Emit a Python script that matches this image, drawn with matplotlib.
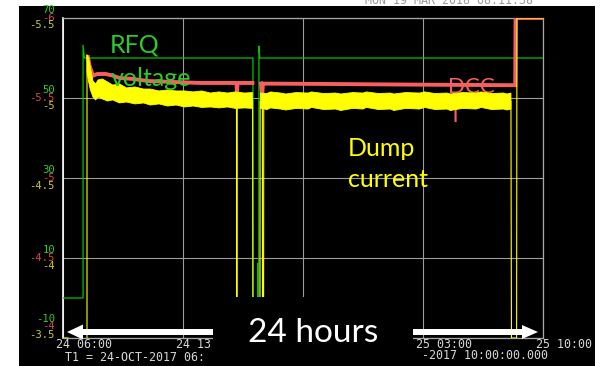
import numpy as np
import matplotlib
matplotlib.use('Agg')
import matplotlib.pyplot as plt
from matplotlib.patches import Rectangle, FancyArrow
from matplotlib.transforms import Affine2D

nan = np.nan

# ---------------- data (hours since 24-OCT 06:00) ----------------
x_ticks = [0, 7, 14, 21, 28]
# labels as visible in the reference (the middle one is hidden by the "24 hours" box)
x_labels = ["24 06:00", "24 13", "", "25 03:00", "25 10:00"]

green_ticks = [70, 50, 30, 10, -10]          # RFQ voltage scale
red_ticks = [-6, -5.5, -5, -4.5, -4]         # DCCT scale (inverted)
yellow_ticks = [-5.5, -5, -4.5, -4, -3.5]    # Dump current scale (inverted)
green_labels = ["70", "50", "30", "10", "-10"]
red_labels = ["-6", "-5.5", "-5", "-4.5", "-4"]
yellow_labels = ["-5.5", "-5", "-4.5", "-4", "-3.5"]

# RFQ voltage
green_t = [0, 1.17, 1.17, 1.25, 11.08, 11.09, 11.36, 11.37, 11.39, 11.42, 11.43, 11.48, 28]
green_v = [0, 0, 63.2, 60, 60, 0, 0, 8.7, 0, 0, 63, 60, 60]

# DCCT
red_t = [1.46, 1.55, 1.75, 2.0, 2.5, 2.9, 3.3, 4.0, 5.0, 6.5, 8.0, 10.12, 10.15, 10.18,
         11.05, 11.3, 11.55, 11.62, 11.66, 11.70, 15.0, 20.0, 26.38, 26.40, 28.0]
red_v = [-5.756, -5.70, -5.64, -5.65, -5.65, -5.64, -5.625, -5.62, -5.606, -5.60, -5.594,
         -5.594, -5.52, -5.594, -5.594, nan, -5.59, -5.52, -5.59, -5.59, -5.588, -5.584,
         -5.58, -6.0, -6.0]

# Dump current: trace
yel_t = [0, 0.3, 0.35, 1.40, 1.40, 1.5, 1.6, 1.75, 2.05, 2.6, 3.3, 4.2, 5.1, 7.1, 10.12,
         10.14, 10.16, 11.06, 11.08, 11.49, 11.50, 11.63, 11.64, 11.70, 11.71, 26.13,
         26.16, 26.46, 26.48, 28]
yel_v = [-3.5, -3.5, nan, -3.5, -5.269, -5.17, -5.12, -5.056, -5.05, -5.04, -5.025,
         -5.015, -5.0, -4.99, -4.985, -3.5, -4.985, -4.985, -3.5, -3.5, -4.98, -4.98,
         -3.5, -3.5, -4.98, -4.98, -3.5, -3.5, -5.5, -5.5]

# Dump current: noise envelope
band_t = [1.40, 1.50, 1.60, 1.75, 1.90, 2.05, 2.30, 2.60, 2.90, 3.30, 3.70, 4.20, 4.70,
          5.10, 5.60, 6.10, 6.60, 7.10, 7.60, 8.10, 8.60, 9.10, 9.60, 10.05, 10.60,
          11.05, 11.30, 11.52, 11.9, 12.1, 12.7, 13.0, 13.6, 14.3, 14.5, 15.2, 15.9,
          16.2, 16.9, 17.5, 17.7, 18.4, 19.1, 19.3, 20.0, 20.8, 21.1, 21.7, 22.4, 22.6,
          23.3, 24.1, 24.4, 25.0, 25.7, 25.9, 26.13]
band_top = [-5.269, -5.25, -5.188, -5.106, -5.088, -5.113, -5.119, -5.1, -5.081, -5.088,
            -5.063, -5.069, -5.056, -5.056, -5.044, -5.05, -5.044, -5.044, -5.038, -5.044,
            -5.031, -5.038, -5.031, -5.038, -5.031, -5.034, nan, -5.031, -5.028, -5.038,
            -5.031, -5.025, -5.034, -5.031, -5.038, -5.028, -5.031, -5.025, -5.034,
            -5.031, -5.038, -5.028, -5.031, -5.025, -5.034, -5.031, -5.038, -5.028,
            -5.031, -5.025, -5.034, -5.031, -5.038, -5.028, -5.031, -5.025, -5.031]
band_bot = [-5.163, -5.1, -5.05, -5.006, -4.988, -5.006, -4.994, -4.981, -4.988, -4.969,
            -4.975, -4.963, -4.969, -4.956, -4.963, -4.95, -4.956, -4.944, -4.95, -4.941,
            -4.944, -4.938, -4.944, -4.935, -4.938, -4.935, nan, -4.935, -4.928, -4.938,
            -4.931, -4.925, -4.935, -4.931, -4.941, -4.928, -4.931, -4.922, -4.935,
            -4.931, -4.941, -4.928, -4.931, -4.922, -4.935, -4.931, -4.941, -4.928,
            -4.931, -4.922, -4.935, -4.931, -4.941, -4.928, -4.931, -4.925, -4.931]

# ---------------- figure ----------------
W, H = 600, 366
fig = plt.figure(figsize=(6, 3.66), dpi=100, facecolor='white')
pix = Affine2D().scale(1 / W, -1 / H).translate(0, 1) + fig.transFigure

fig.add_artist(Rectangle((19, 6), 576, 360, transform=pix, facecolor='black',
                         edgecolor='none', zorder=-1))

GREEN = '#00c400'
RED = '#f86060'
YEL = '#ffff00'
GREEN_T = '#2ccc2c'
RED_T = '#d84848'
YEL_T = '#cccc22'
MONO = 'DejaVu Sans Mono'
SANS = ['Lato', 'DejaVu Sans']

ax = fig.add_axes([63 / W, 1 - 338 / H, 480 / W, 320 / H])
ax.set_facecolor('black')
ax_r = ax.twinx()
ax_y = ax.twinx()

ax.set_xlim(0, 28)
ax.set_ylim(-10, 70)
ax_r.set_ylim(-4, -6)
ax_y.set_ylim(-3.5, -5.5)

ax.set_xticks(x_ticks)
ax.set_yticks(green_ticks)
ax.grid(True, color='#9c9c9c', lw=0.8)
ax.set_axisbelow(True)
for a in (ax, ax_r, ax_y):
    a.tick_params(length=0, labelleft=False, labelright=False, labelbottom=False)
for a in (ax_r, ax_y):
    a.set_yticks([])
    for s in a.spines.values():
        s.set_visible(False)
for k, s in ax.spines.items():
    s.set_color('#a8a8a8')
    s.set_linewidth(0.9)
ax.spines['left'].set_color('white')
ax.spines['left'].set_linewidth(1.2)

# traces
ax.plot(green_t, green_v, color=GREEN, lw=0.9, zorder=3)
ax_r.plot(red_t, red_v, color=RED, lw=2.8, solid_joinstyle='miter', zorder=3)
ax_y.fill_between(band_t, band_top, band_bot, color=YEL, lw=0.6, edgecolor=YEL, zorder=3)
ax_y.plot(yel_t, yel_v, color=YEL, lw=0.8, zorder=4)

# y tick labels (stacked green / red / yellow)
YFS = 7.6
g_off = [8, 8, 8, 8, 19]
r_off = [0, 0, 0, 0, 12]
y_off = [-7, -8, -8, -8, 3]
for v, s, o in zip(green_ticks, green_labels, g_off):
    ax.annotate(s, xy=(0, v), xycoords=('axes fraction', 'data'), xytext=(-8, o),
                textcoords='offset pixels', ha='right', va='center', color=GREEN_T,
                family=MONO, fontsize=YFS, annotation_clip=False)
for v, s, o in zip(red_ticks, red_labels, r_off):
    ax_r.annotate(s, xy=(0, v), xycoords=('axes fraction', 'data'), xytext=(-8, o),
                  textcoords='offset pixels', ha='right', va='center', color=RED_T,
                  family=MONO, fontsize=YFS, annotation_clip=False)
for v, s, o in zip(yellow_ticks, yellow_labels, y_off):
    ax_y.annotate(s, xy=(0, v), xycoords=('axes fraction', 'data'), xytext=(-8, o),
                  textcoords='offset pixels', ha='right', va='center', color=YEL_T,
                  family=MONO, fontsize=YFS, annotation_clip=False)

# x tick labels
XFS = 8.4
for t, s in zip(x_ticks, x_labels):
    if not s:
        continue
    ax.annotate(s, xy=(t, 0), xycoords=('data', 'axes fraction'), xytext=(-7, -6),
                textcoords='offset pixels', ha='left', va='center', color='#d8d8d8',
                family=MONO, fontsize=XFS, annotation_clip=False)

fig.text(65, 361, "T1 = 24-OCT-2017 06:", transform=pix, ha='left',
         va='baseline', color='#d8d8d8', family=MONO, fontsize=XFS, zorder=2)
fig.text(548, 359, "-2017 10:00:00.000", transform=pix, ha='right',
         va='baseline', color='#d8d8d8', family=MONO, fontsize=XFS, zorder=2)
fig.text(365, 4.5, "MON 19 MAR 2018 08:11:38", transform=pix, ha='left',
         va='baseline', color='#9a9a9a', family=MONO, fontsize=XFS, zorder=2)

# annotations
ax_r.text(448, 93, "DCC", transform=pix, color=RED, family=SANS, fontsize=16,
          ha='left', va='baseline', zorder=5)
ax_r.text(449, 122, "T", transform=pix, color=RED, family=SANS, fontsize=16,
          ha='left', va='baseline', zorder=5)
ax_y.text(110, 53, "RFQ", transform=pix, color=GREEN_T, family=SANS, fontsize=18,
          ha='left', va='baseline', zorder=10)
ax_y.text(111, 86, "voltage", transform=pix, color=GREEN_T, family=SANS, fontsize=18,
          ha='left', va='baseline', zorder=10)
ax_y.text(348, 156, "Dump", transform=pix, color=YEL, family=SANS, fontsize=18,
          ha='left', va='baseline', zorder=10)
ax_y.text(348, 187, "current", transform=pix, color=YEL, family=SANS, fontsize=18,
          ha='left', va='baseline', zorder=10)

# 24 hours arrow and label box
fig.add_artist(FancyArrow(313, 332, -246, 0, width=6, head_width=15, head_length=16,
                          length_includes_head=True, transform=pix, color='white',
                          lw=0, zorder=3))
fig.add_artist(FancyArrow(313, 332, 225, 0, width=6, head_width=14, head_length=16,
                          length_includes_head=True, transform=pix, color='white',
                          lw=0, zorder=3))
fig.add_artist(Rectangle((213, 297), 200, 69, transform=pix, facecolor='black',
                         edgecolor='none', zorder=4))
fig.text(313, 342, "24 hours", transform=pix, ha='center', va='baseline',
         color='white', family=SANS, fontsize=24, zorder=5)

fig.savefig('out.png', dpi=100, facecolor='white')
